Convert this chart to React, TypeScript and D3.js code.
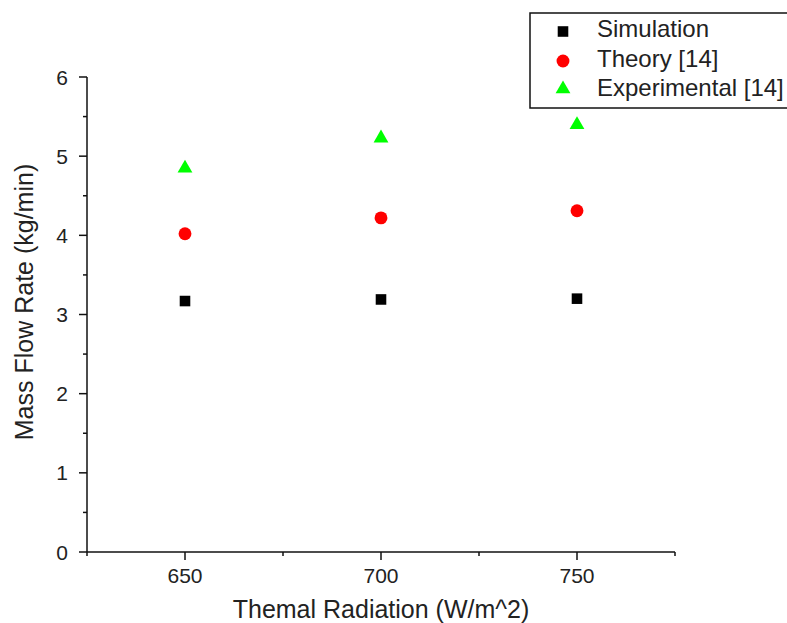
import React from "react";
import * as d3 from "d3";

const radiation = [650, 700, 750];
const simulation = [3.17, 3.19, 3.2];
const theory = [4.02, 4.22, 4.31];
const experimental = [4.86, 5.24, 5.41];
const xTicks = [650, 700, 750];
const xMinor = [625, 675, 725, 775];
const yTicks = [0, 1, 2, 3, 4, 5, 6];
const yMinor = [0.5, 1.5, 2.5, 3.5, 4.5, 5.5];
const legendLabels = ["Simulation", "Theory [14]", "Experimental [14]"];

const W = 787;
const H = 623;
const FONT = "'Liberation Sans', Arial, sans-serif";

export default function App() {
  const x = d3.scaleLinear().domain([625, 775]).range([87, 675]);
  const y = d3.scaleLinear().domain([0, 6]).range([552, 77]);

  const sq = d3.symbol().type(d3.symbolSquare).size(112)();
  const circ = d3.symbol().type(d3.symbolCircle).size(130)();
  const tri = d3.symbol().type(d3.symbolTriangle).size(95)();

  const series = [
    { vals: simulation, path: sq, color: "#000000", dy: 0 },
    { vals: theory, path: circ, color: "#ff0000", dy: 0 },
    { vals: experimental, path: tri, color: "#00ff00", dy: 1 },
  ];

  const legendY = [31.5, 61, 89];

  return (
    <svg
      width={W}
      height={H}
      style={{ position: "absolute", left: 0, top: 0, background: "#fff" }}
      fontFamily={FONT}
    >
      <rect x={0} y={0} width={W} height={H} fill="#fff" />
      {/* axes */}
      <line x1={87} x2={87} y1={y(6)} y2={y(0)} stroke="#111" strokeWidth={1.5} />
      <line x1={87} x2={675} y1={y(0)} y2={y(0)} stroke="#111" strokeWidth={1.5} />
      {yTicks.map((t) => (
        <g key={"yt" + t}>
          <line x1={79} x2={87} y1={y(t)} y2={y(t)} stroke="#111" strokeWidth={1.5} />
          <text x={68} y={y(t)} dy="0.36em" textAnchor="end" fontSize={21} fill="#222">
            {t}
          </text>
        </g>
      ))}
      {yMinor.map((t) => (
        <line key={"ym" + t} x1={83} x2={87} y1={y(t)} y2={y(t)} stroke="#111" strokeWidth={1.5} />
      ))}
      {xTicks.map((t) => (
        <g key={"xt" + t}>
          <line x1={x(t)} x2={x(t)} y1={y(0)} y2={y(0) + 8} stroke="#111" strokeWidth={1.5} />
          <text x={x(t)} y={583} textAnchor="middle" fontSize={21} fill="#222">
            {t}
          </text>
        </g>
      ))}
      {xMinor.map((t) => (
        <line key={"xm" + t} x1={x(t)} x2={x(t)} y1={y(0)} y2={y(0) + 4} stroke="#111" strokeWidth={1.5} />
      ))}
      {/* titles */}
      <text x={381} y={618} textAnchor="middle" fontSize={25} fill="#222">
        Themal Radiation (W/m^2)
      </text>
      <text
        transform={`translate(33, ${302}) rotate(-90)`}
        textAnchor="middle"
        fontSize={25}
        fill="#222"
      >
        Mass Flow Rate (kg/min)
      </text>
      {/* points */}
      {series.map((s, si) =>
        s.vals.map((v, i) => (
          <path
            key={si + "-" + i}
            d={s.path as string}
            transform={`translate(${x(radiation[i])}, ${y(v) + s.dy})`}
            fill={s.color}
          />
        ))
      )}
      {/* legend */}
      <rect x={530} y={13} width={300} height={95} fill="none" stroke="#111" strokeWidth={1.5} />
      {series.map((s, si) => (
        <g key={"lg" + si}>
          <path d={s.path as string} transform={`translate(563, ${legendY[si]})`} fill={s.color} />
          <text x={597} y={[37, 67, 96][si]} fontSize={24} fill="#222">
            {legendLabels[si]}
          </text>
        </g>
      ))}
    </svg>
  );
}
